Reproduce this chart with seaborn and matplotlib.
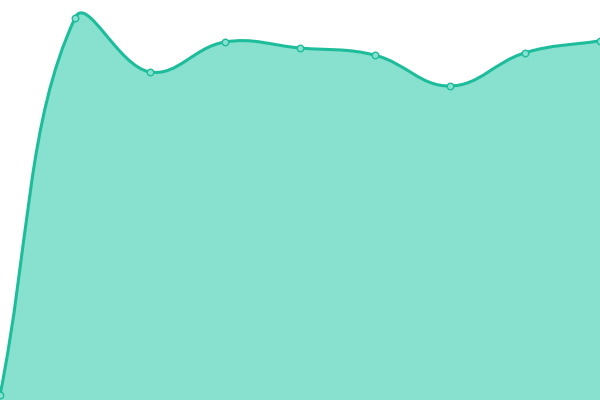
import numpy as np
import pandas as pd
import seaborn as sns
import matplotlib
matplotlib.use("Agg")
import matplotlib.pyplot as plt
from matplotlib.path import Path
from matplotlib.patches import PathPatch

# values (0-100 scale)
steps = [0, 1, 2, 3, 4, 5, 6, 7, 8]
values = [1.2, 95.5, 82.0, 89.5, 88.0, 86.2, 78.5, 86.8, 89.8]

line_color = "#1dbd9b"
fill_color = "#88e0cf"
tension = 0.4

sns.set_style("white")

fig = plt.figure(figsize=(6, 4), dpi=100)
ax = fig.add_axes([0, 0, 1, 1])
ax.set_xlim(0, 8)
ax.set_ylim(0, 100)
ax.axis("off")

# pixel scale, used to get the spline control points like chart.js does
sx, sy = 75.0, 4.0
px = np.array(steps, dtype=float) * sx
py = np.array(values, dtype=float) * sy

n = len(px)
c_prev = np.zeros((n, 2))
c_next = np.zeros((n, 2))
for i in range(n):
    p0 = (px[max(i - 1, 0)], py[max(i - 1, 0)])
    p1 = (px[i], py[i])
    p2 = (px[min(i + 1, n - 1)], py[min(i + 1, n - 1)])
    d01 = np.hypot(p1[0] - p0[0], p1[1] - p0[1])
    d12 = np.hypot(p2[0] - p1[0], p2[1] - p1[1])
    tot = d01 + d12
    s01 = d01 / tot if tot else 0
    s12 = d12 / tot if tot else 0
    fa = tension * s01
    fb = tension * s12
    c_prev[i] = (p1[0] - fa * (p2[0] - p0[0]), p1[1] - fa * (p2[1] - p0[1]))
    c_next[i] = (p1[0] + fb * (p2[0] - p0[0]), p1[1] + fb * (p2[1] - p0[1]))

verts = [(px[0] / sx, py[0] / sy)]
codes = [Path.MOVETO]
for i in range(n - 1):
    verts += [(c_next[i][0] / sx, c_next[i][1] / sy),
              (c_prev[i + 1][0] / sx, c_prev[i + 1][1] / sy),
              (px[i + 1] / sx, py[i + 1] / sy)]
    codes += [Path.CURVE4] * 3

line_path = Path(verts, codes)
fill_path = Path(verts + [(steps[-1], 0), (steps[0], 0), verts[0]],
                 codes + [Path.LINETO, Path.LINETO, Path.CLOSEPOLY])

ax.add_patch(PathPatch(fill_path, facecolor=fill_color, edgecolor="none", zorder=1))
ax.add_patch(PathPatch(line_path, facecolor="none", edgecolor=line_color, lw=2.2, zorder=2))

df = pd.DataFrame({"step": steps, "value": values})
sns.scatterplot(data=df, x="step", y="value", ax=ax, s=22, color=fill_color,
                edgecolor=line_color, linewidth=1.0, zorder=3, legend=False)
ax.set_xlim(0, 8)
ax.set_ylim(0, 100)
ax.axis("off")

fig.savefig("out.png", dpi=100)
